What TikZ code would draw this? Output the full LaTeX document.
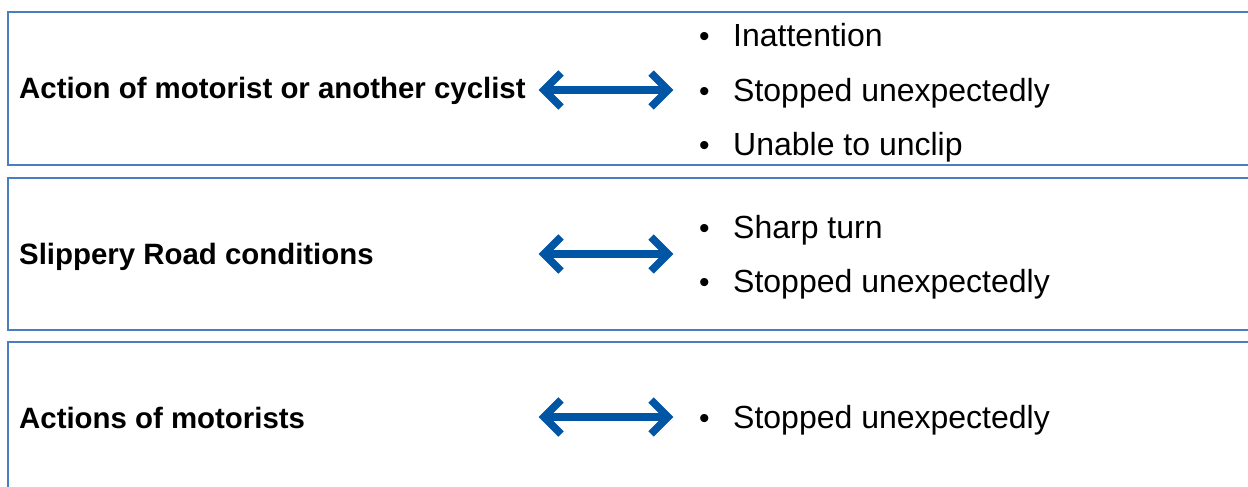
\documentclass[tikz,border=0pt]{standalone}
\usepackage{fontspec}
\setmainfont{Liberation Sans}
\definecolor{boxline}{HTML}{4A7FBF}
\definecolor{arrblue}{HTML}{0055A5}
\begin{document}
\begin{tikzpicture}[x=1pt,y=-1pt,
  panel/.style={draw=boxline, line width=1.5pt},
  title/.style={anchor=base west, inner sep=0pt, font=\fontsize{29.4}{34}\selectfont\bfseries},
  item/.style={anchor=base west, inner sep=0pt, font=\fontsize{32}{38}\selectfont},
  bul/.style={anchor=base west, inner sep=0pt, font=\fontsize{30}{38}\selectfont},
  arr/.style={draw=arrblue, line width=7.5pt, line join=miter, line cap=butt}]
\useasboundingbox (0,0) rectangle (1248,487);
\clip (0,0) rectangle (1248,487);
\fill[white] (0,0) rectangle (1248,487);
% panels
\draw[panel] (8,12) rectangle (1260,165);
\draw[panel] (8,178) rectangle (1260,330);
\draw[panel] (8,342) rectangle (1260,500);
% titles
\node[title] (t1) at (19,99) {Action of motorist or another cyclist};
\node[title] (t2) at (19,264) {Slippery Road conditions};
\node[title] (t3) at (19,428) {Actions of motorists};
% items box 1
\node[bul] (b11) at (699,47) {•};
\node[item] (i11) at (733,47) {Inattention};
\node[bul] (b12) at (699,101) {•};
\node[item] (i12) at (733,101) {Stopped unexpectedly};
\node[bul] (b13) at (699,155) {•};
\node[item] (i13) at (733,155) {Unable to unclip};
% items box 2
\node[bul] (b21) at (699,238) {•};
\node[item] (i21) at (733,238) {Sharp turn};
\node[bul] (b22) at (699,292) {•};
\node[item] (i22) at (733,292) {Stopped unexpectedly};
% items box 3
\node[bul] (b31) at (699,428) {•};
\node[item] (i31) at (733,428) {Stopped unexpectedly};
% arrows
\foreach \n/\yy in {1/90,2/254,3/417}{
  \coordinate (aL\n) at (544,\yy);
  \coordinate (aR\n) at (668,\yy);
  \draw[arr] ([shift={(17,-17)}]aL\n) -- (aL\n) -- ([shift={(17,17)}]aL\n);
  \draw[arr] ([shift={(-17,-17)}]aR\n) -- (aR\n) -- ([shift={(-17,17)}]aR\n);
  \draw[arr] (aL\n) -- (aR\n);
}
\end{tikzpicture}
\end{document}
